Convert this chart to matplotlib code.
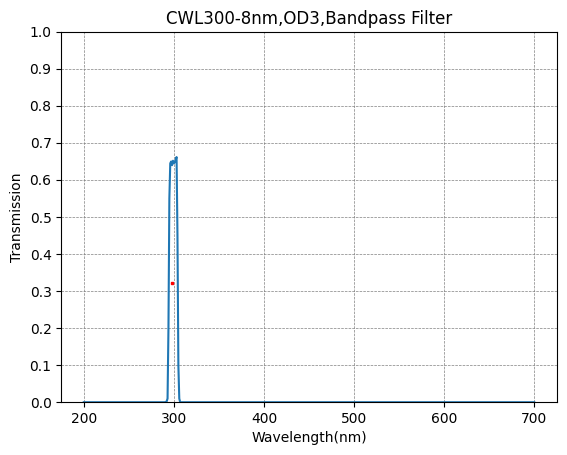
import matplotlib
matplotlib.use("Agg")
import matplotlib.pyplot as plt

wl = [200, 290, 292, 293, 294, 295, 296, 297, 298, 299, 300, 301, 302, 303, 304, 305, 306, 307, 310, 700]
tr = [0, 0, 0.002, 0.01, 0.2, 0.55, 0.645, 0.65, 0.64, 0.652, 0.645, 0.648, 0.655, 0.662, 0.45, 0.1, 0.01, 0, 0, 0]
cwl_x = [297.5]
cwl_y = [0.323]

fig, ax = plt.subplots(figsize=(5.67, 4.55), dpi=100)
fig.subplots_adjust(left=0.108, right=0.982, top=0.930, bottom=0.116)
ax.plot(wl, tr, color="#1f77b4")
ax.plot(cwl_x, cwl_y, "s", color="red", markersize=1.5)
ax.set_ylim(0, 1)
ax.set_yticks([i / 10 for i in range(11)])
ax.set_xticks([200, 300, 400, 500, 600, 700])
ax.grid(True, color="gray", linestyle="--", linewidth=0.5)
ax.set_xlabel("Wavelength(nm)")
ax.set_ylabel("Transmission")
ax.set_title("CWL300-8nm,OD3,Bandpass Filter")
fig.savefig("out.png")
